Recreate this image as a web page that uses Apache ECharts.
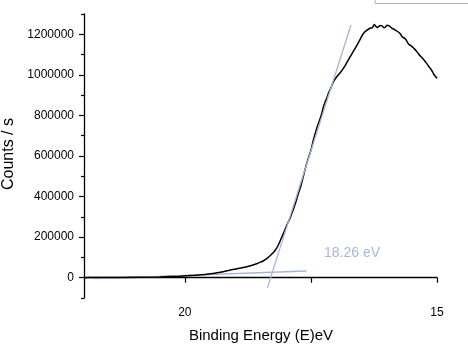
<!DOCTYPE html>
<html>
<head>
<meta charset="utf-8">
<script src="https://cdn.jsdelivr.net/npm/echarts@6/dist/echarts.min.js"></script>
<style>
html,body{margin:0;padding:0;background:#fff;}
#c{width:468px;height:355px;}
</style>
</head>
<body>
<div id="c"></div>
<script>
// Binding energy (eV) and counts/s
var energy = [21.99,21.82,21.29,20.50,20.10,19.84,19.60,19.44,19.27,19.11,18.94,18.77,18.68,18.59,18.51,18.44,18.37,18.31,18.24,18.18,18.13,18.08,18.03,17.98,17.94,17.90,17.85,17.80,17.75,17.70,17.65,17.60,17.555,17.50,17.45,17.41,17.376,17.33,17.282,17.25,17.217,17.18,17.151,17.10,17.052,16.984,16.92,16.853,16.79,16.72,16.65,16.586,16.53,16.487,16.44,16.388,16.33,16.288,16.26,16.243,16.21,16.177,16.13,16.09,16.05,16.024,15.99,15.958,15.92,15.89,15.825,15.76,15.72,15.692,15.626,15.561,15.51,15.461,15.41,15.362,15.31,15.262,15.21,15.163,15.11,15.064,15.03,14.996];
var counts = [0,1000,1500,3900,7400,11500,15500,20500,28000,37000,45000,54000,60500,68000,75500,83500,95000,108000,125000,146000,170000,199000,228000,258000,280000,302000,336600,372000,415000,452000,500000,548000,587000,628000,680600,715000,744500,775000,811800,846000,867000,888000,910000,938000,967000,991600,1010000,1033000,1060000,1090000,1120000,1147000,1172000,1193000,1210000,1221000,1230000,1232000,1242000,1248000,1238000,1234000,1243000,1241000,1232000,1236000,1244000,1243000,1236000,1229000,1221000,1210000,1200000,1188000,1177000,1151000,1143000,1131000,1118000,1102000,1088000,1074000,1058000,1041000,1024000,1003000,992000,983000];
var tangentE = [18.364,16.706];
var tangentV = [-50000,1246000];
var baseE = [21.79,17.59];
var baseV = [-4000,33000];
var yLabels = [0,200000,400000,600000,800000,1000000,1200000];
var yMinor = [-100000,100000,300000,500000,700000,900000,1100000,1300000];
var xLabels = [15,20];
var xTicks = [15,17.5,20];
var onsetLabel = '18.26 eV';

function pairs(a,b){var r=[];for(var i=0;i<a.length;i++)r.push([a[i],b[i]]);return r;}

var chart = echarts.init(document.getElementById('c'));
var F = '"Liberation Sans", Arial, sans-serif';
var blue = '#a3b4dc';
chart.setOption({
  animation:false,
  grid:{left:84,right:31,top:14,bottom:57},
  xAxis:[{
    type:'value',min:15,max:22,inverse:true,
    axisLine:{lineStyle:{color:'#000',width:1.3}},
    axisTick:{show:true,customValues:xTicks,length:5,lineStyle:{color:'#000',width:1.2}},
    axisLabel:{customValues:xLabels,color:'#000',fontFamily:F,fontSize:12,margin:9,formatter:function(v){return String(v);}},
    splitLine:{show:false}
  }],
  yAxis:[{
    type:'value',min:-100000,max:1300000,interval:100000,
    axisLine:{show:true,lineStyle:{color:'#000',width:1.3}},
    axisTick:{show:true,customValues:yLabels,length:5,lineStyle:{color:'#000',width:1.2}},
    axisLabel:{customValues:yLabels,color:'#000',fontFamily:F,fontSize:12,margin:10,formatter:function(v){return String(v);}},
    splitLine:{show:false}
  },{
    type:'value',min:-100000,max:1300000,interval:100000,position:'left',
    axisLine:{show:false},
    axisTick:{show:true,customValues:yMinor,length:3,lineStyle:{color:'#000',width:1.2}},
    axisLabel:{show:false},splitLine:{show:false}
  }],
  series:[
    {type:'line',data:pairs(baseE,baseV),showSymbol:false,lineStyle:{color:blue,width:1.3},z:2},
    {type:'line',data:pairs(energy,counts),showSymbol:false,smooth:0.2,lineStyle:{color:'#000',width:1.5},z:3},
    {type:'line',data:pairs(tangentE,tangentV),showSymbol:false,lineStyle:{color:blue,width:1.3},z:4}
  ],
  graphic:[
    {type:'rect',shape:{x:375,y:-10,width:100,height:13.5},style:{fill:'#fff',stroke:'#b0b0b0',lineWidth:1}},
    {type:'text',x:324,y:253,style:{text:onsetLabel,fill:'#a9b6da',font:'14px '+F,textAlign:'left',textVerticalAlign:'middle'}},
    {type:'text',x:261,y:336,style:{text:'Binding Energy (E)eV',fill:'#000',font:'15px '+F,textAlign:'center',textVerticalAlign:'middle'}},
    {type:'text',x:9,y:154,rotation:Math.PI/2,style:{text:'Counts / s',fill:'#000',font:'16px '+F,textAlign:'center',textVerticalAlign:'middle'}}
  ]
});
</script>
</body>
</html>
